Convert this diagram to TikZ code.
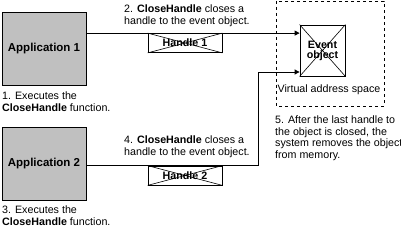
\documentclass[tikz,border=0pt]{standalone}
\usepackage{fontspec}
\setmainfont{Liberation Sans}
\usetikzlibrary{arrows.meta}
\definecolor{appgray}{HTML}{C0C0C0}
\begin{document}
\begin{tikzpicture}[x=1pt,y=-1pt,
  appbox/.style={draw, line width=0.8pt, fill=appgray, minimum width=84pt, minimum height=73pt, inner sep=0pt, font=\fontsize{11.5}{12}\selectfont\bfseries},
  handlebox/.style={draw, line width=0.8pt, minimum width=74pt, minimum height=19pt, inner sep=0pt},
  objbox/.style={draw, line width=0.8pt, minimum width=45pt, minimum height=51pt, inner sep=0pt},
  lbl/.style={font=\fontsize{10.7}{11.5}\selectfont, inner sep=0pt, align=left},
  conn/.style={line width=0.8pt},
  arr/.style={line width=0.8pt, -{Triangle[length=5pt,width=5pt]}}
]
\useasboundingbox (0,0) rectangle (401,227);
% dashed address space
\draw[line width=0.7pt, dash pattern=on 3pt off 3pt] (276,1) rectangle (384,106);
\node[lbl, anchor=center] (vas) at (329,90) {Virtual address space};
% apps
\node[appbox] (app1) at (44,49) {Application 1};
\node[appbox] (app2) at (44,164) {Application 2};
% event object
\node[objbox] (ev) at (322.5,50.5) {};
\draw[line width=0.6pt] (ev.north west) -- (ev.south east) (ev.north east) -- (ev.south west);
\node[font=\fontsize{10.7}{10}\selectfont\bfseries, align=center, inner sep=0pt] (evt) at (ev.center) {Event\\object};
% handles
\node[handlebox] (h1) at (185,43) {};
\draw[line width=0.6pt] (h1.north west) -- (h1.south east) (h1.north east) -- (h1.south west);
\node[font=\fontsize{10.7}{11}\selectfont\bfseries, inner sep=0pt] (h1t) at (h1.center) {Handle 1};
\node[handlebox] (h2) at (185,175.5) {};
\draw[line width=0.6pt] (h2.north west) -- (h2.south east) (h2.north east) -- (h2.south west);
\node[font=\fontsize{10.7}{11}\selectfont\bfseries, inner sep=0pt] (h2t) at (h2.center) {Handle 2};
% connectors
\draw[arr] (app1.east |- h1.north) -- (ev.west |- h1.north);
\coordinate (turn) at (258,72);
\draw[arr] (app2.east |- h2.north) -| (turn) -- (ev.west |- turn);
% labels
\node[lbl, anchor=west] (t1) at (2,101.5) {1. Executes the\\\textbf{CloseHandle} function.};
\node[lbl, anchor=west] (t2) at (124,15.5) {2. \textbf{CloseHandle} closes a\\handle to the event object.};
\node[lbl, anchor=west] (t3) at (2,215.5) {3. Executes the\\\textbf{CloseHandle} function.};
\node[lbl, anchor=west] (t4) at (124,146.5) {4. \textbf{CloseHandle} closes a\\handle to the event object.};
\node[lbl, anchor=west] (t5) at (275,138) {5. After the last handle to\\the object is closed, the\\system removes the object\\from memory.};
\end{tikzpicture}
\end{document}
